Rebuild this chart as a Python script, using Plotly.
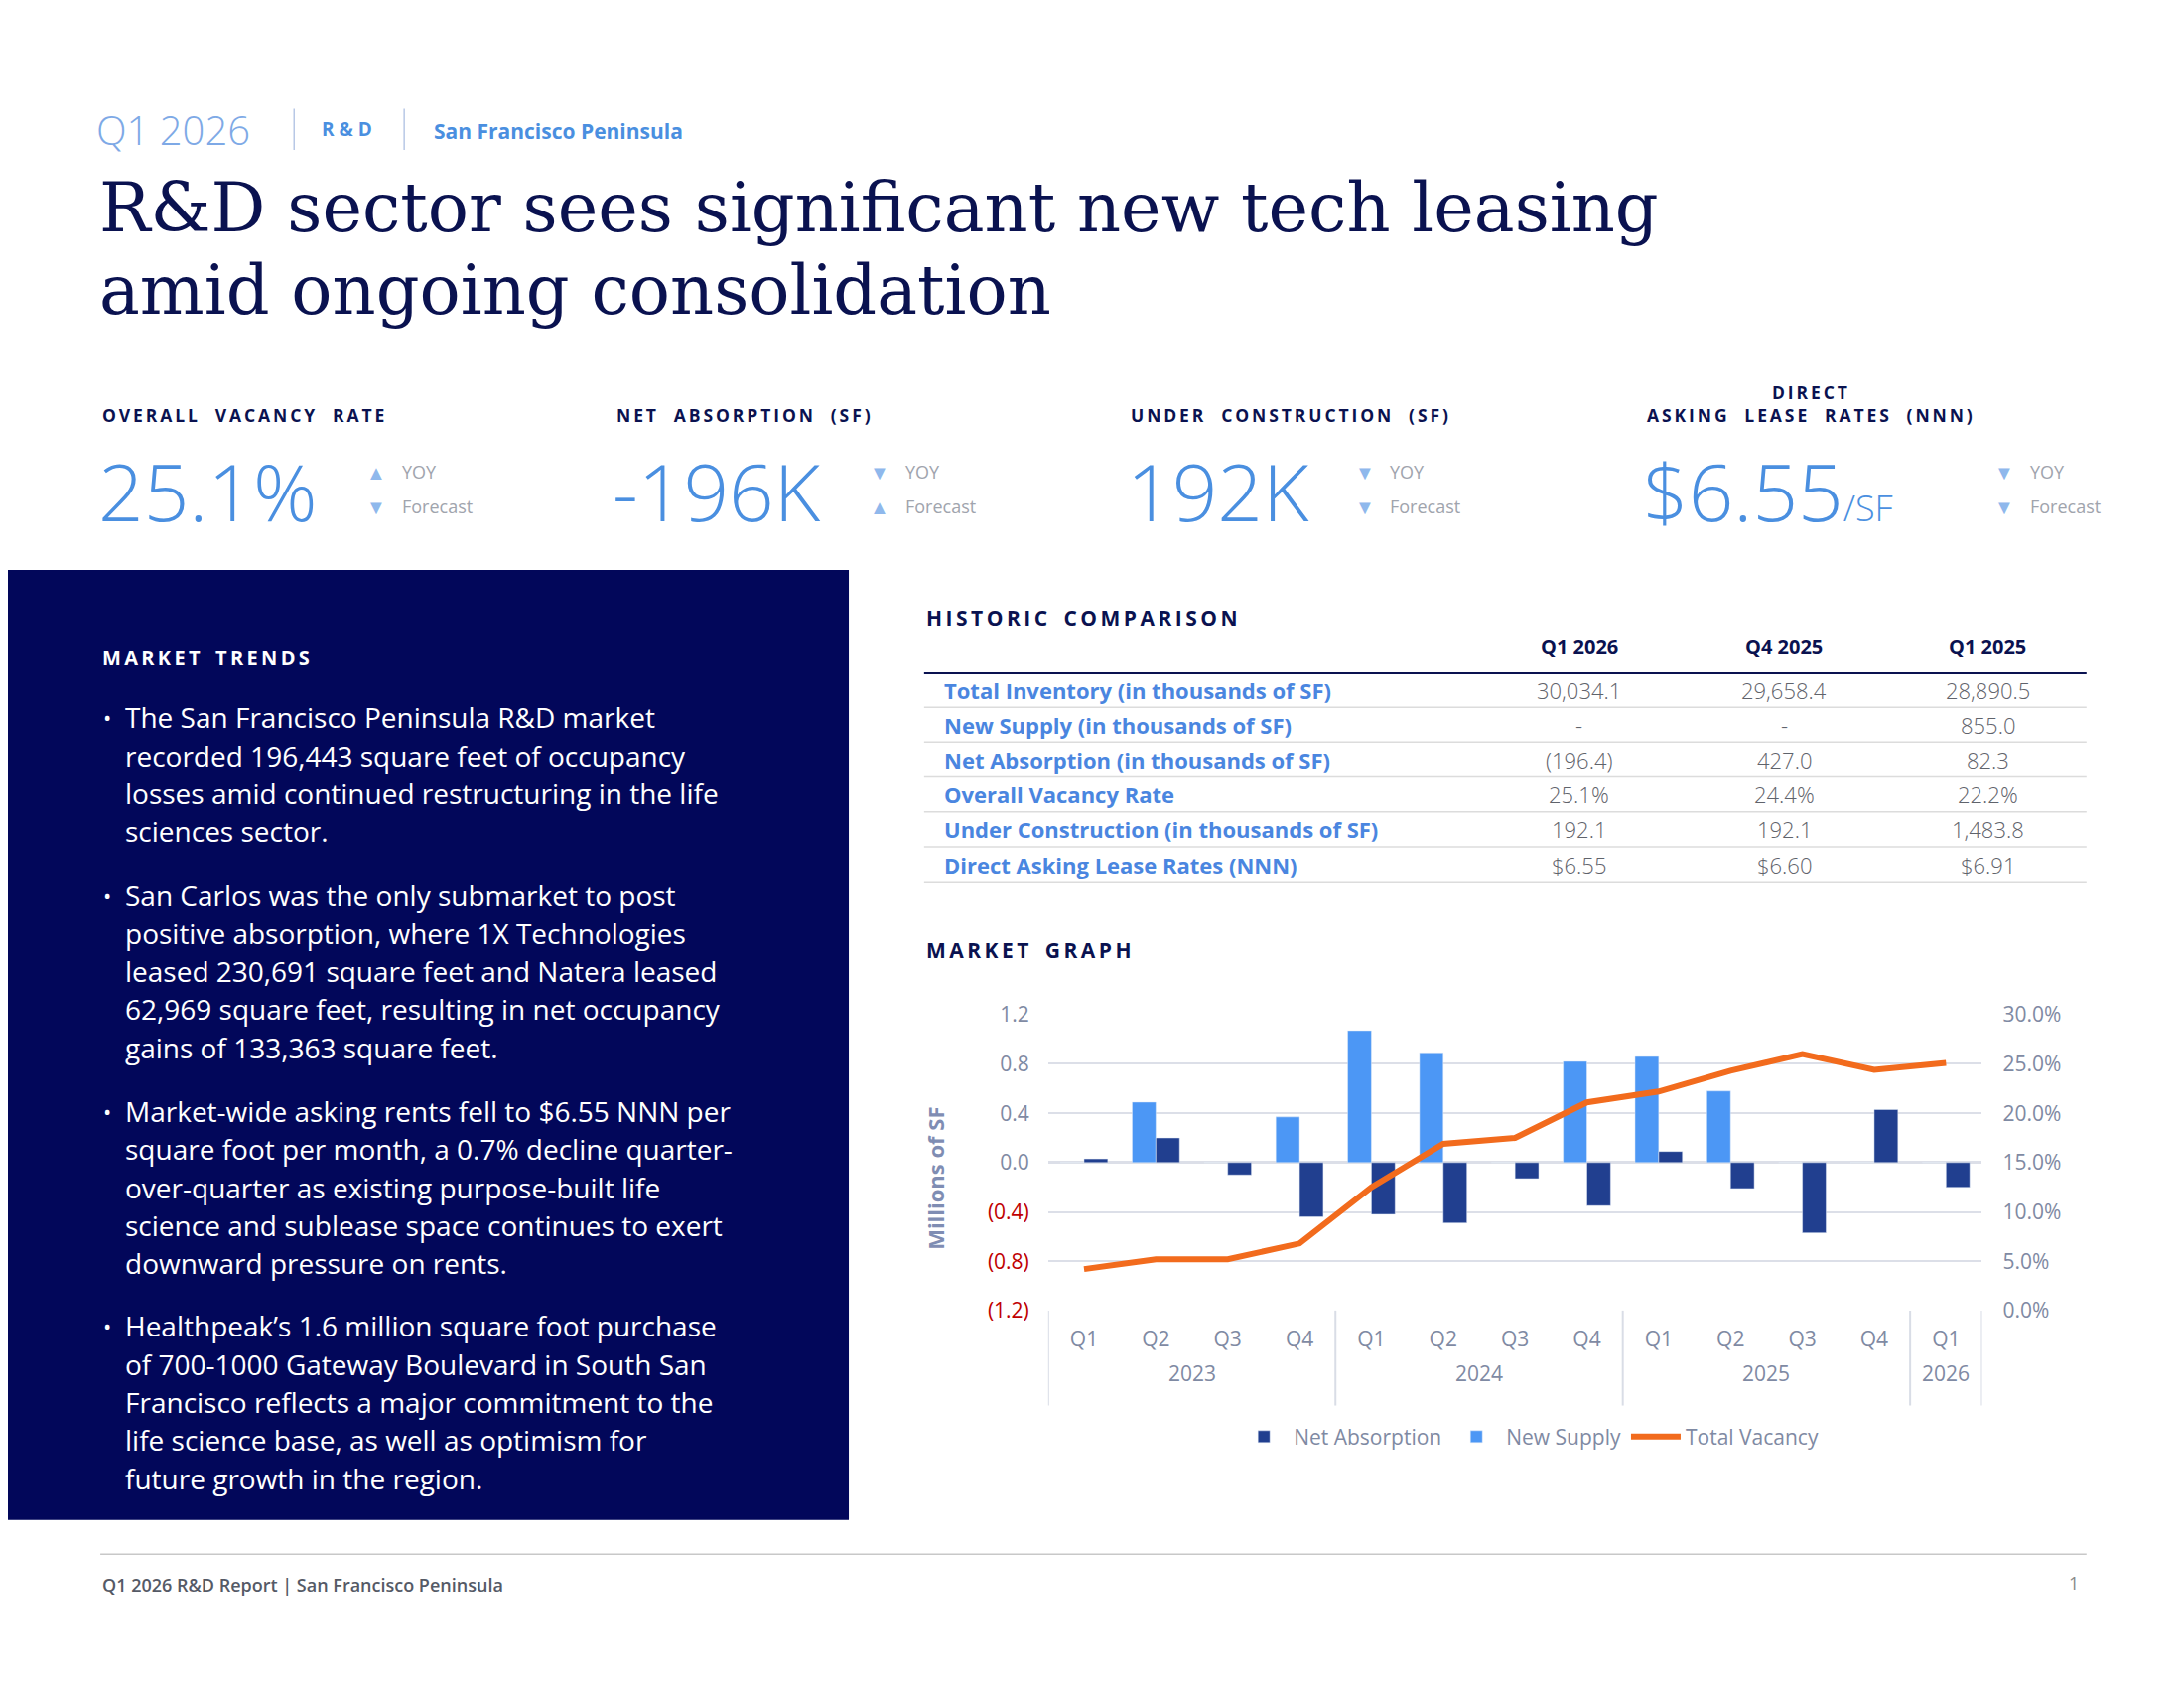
import plotly.graph_objects as go

# ---- data ----
years = ["2023"] * 4 + ["2024"] * 4 + ["2025"] * 4 + ["2026"]
quarters = ["Q1", "Q2", "Q3", "Q4"] * 3 + ["Q1"]
net_absorption = [0.03, 0.20, -0.10, -0.44, -0.42, -0.49, -0.13, -0.35, 0.09, -0.21, -0.57, 0.43, -0.20]
new_supply = [0.0, 0.49, 0.0, 0.37, 1.07, 0.89, 0.0, 0.82, 0.86, 0.58, 0.0, 0.0, 0.0]
total_vacancy = [4.2, 5.2, 5.2, 6.8, 12.5, 16.9, 17.5, 21.1, 22.2, 24.3, 26.0, 24.4, 25.1]

left_ticks = [-1.2, -0.8, -0.4, 0.0, 0.4, 0.8, 1.2]
right_ticks = [0, 5, 10, 15, 20, 25, 30]

table_cols = ["Q1 2026", "Q4 2025", "Q1 2025"]
table_rows = ["Total Inventory (in thousands of SF)", "New Supply (in thousands of SF)",
              "Net Absorption (in thousands of SF)", "Overall Vacancy Rate",
              "Under Construction (in thousands of SF)", "Direct Asking Lease Rates (NNN)"]
table_vals = [["30,034.1", "29,658.4", "28,890.5"],
              ["-", "-", "855.0"],
              ["(196.4)", "427.0", "82.3"],
              ["25.1%", "24.4%", "22.2%"],
              ["192.1", "192.1", "1,483.8"],
              ["$6.55", "$6.60", "$6.91"]]

kpi_labels = ["OVERALL  VACANCY  RATE", "NET  ABSORPTION  (SF)", "UNDER  CONSTRUCTION  (SF)",
              "DIRECT<br>ASKING  LEASE  RATES  (NNN)"]
kpi_values = ["25.1%", "-196K", "192K", "$6.55<span style='font-size:36px'>/SF</span>"]
kpi_yoy = ["▲", "▼", "▼", "▼"]
kpi_fc = ["▼", "▲", "▼", "▼"]

bullets = [
    ["The San Francisco Peninsula R&D market", "recorded 196,443 square feet of occupancy",
     "losses amid continued restructuring in the life", "sciences sector."],
    ["San Carlos was the only submarket to post", "positive absorption, where 1X Technologies",
     "leased 230,691 square feet and Natera leased", "62,969 square feet, resulting in net occupancy",
     "gains of 133,363 square feet."],
    ["Market-wide asking rents fell to $6.55 NNN per", "square foot per month, a 0.7% decline quarter-",
     "over-quarter as existing purpose-built life", "science and sublease space continues to exert",
     "downward pressure on rents."],
    ["Healthpeak\u2019s 1.6 million square foot purchase", "of 700-1000 Gateway Boulevard in South San",
     "Francisco reflects a major commitment to the", "life science base, as well as optimism for",
     "future growth in the region."],
]

# page is 2200x1700, the browser body adds an 8px margin
OFF = 8
W, H = 2200 - 2 * OFF, 1700 - 2 * OFF
SX, SY = 1.404, 1.41  # layout coords below are measured on a reduced copy of the page
NAVY = "#0a1250"
BLUE = "#4a8fe0"
LBLUE = "#8fb8ec"
GREY = "#7f8aa3"
SANS = "Open Sans"


def px(x):
    return (x * SX - OFF) / W


def py(y):
    return 1 - (y * SY - OFF) / H


def spaced(s):
    return "\u2009".join(s)


annotations = []
shapes = []


def text(x, y, s, size, color, xanchor="left", yanchor="middle", family=SANS, weight=None, **kw):
    f = dict(size=size, color=color, family=family)
    if weight:
        f["weight"] = weight
    annotations.append(dict(x=px(x), y=py(y), xref="paper", yref="paper", text=s, showarrow=False,
                            xanchor=xanchor, yanchor=yanchor, font=f, **kw))


def line(x0, y0, x1, y1, color, width):
    shapes.append(dict(type="line", xref="paper", yref="paper", x0=px(x0), y0=py(y0),
                       x1=px(x1), y1=py(y1), line=dict(color=color, width=width)))


cats = [y + " " + q for y, q in zip(years, quarters)]

fig = go.Figure()
fig.add_trace(go.Bar(x=cats, y=new_supply, name="New Supply", marker_color="#4c97f5", legendrank=2))
fig.add_trace(go.Bar(x=cats, y=net_absorption, name="Net Absorption", marker_color="#213f8f", legendrank=1))
fig.add_trace(go.Scatter(x=cats, y=total_vacancy, name="Total Vacancy", yaxis="y2",
                         mode="lines", line=dict(color="#f26b1d", width=6), legendrank=3))

# year labels and dividers under the quarter ticks
groups = {}
for i, y in enumerate(years):
    groups.setdefault(y, []).append(i)
bounds = [-0.5]
for y, idx in groups.items():
    annotations.append(dict(x=(idx[0] + idx[-1]) / 2, y=py(998), xref="x", yref="paper", text=y,
                            showarrow=False, font=dict(size=21, color=GREY, family=SANS)))
    bounds.append(idx[-1] + 0.5)
for b in bounds:
    shapes.append(dict(type="line", xref="x", yref="paper", x0=b, x1=b, y0=py(941), y1=py(1010),
                       line=dict(color="#d9dde6", width=2)))

# header
text(68, 83, "Q1 2026", 40, "#7ea9e6", weight=300)
line(211, 68, 211, 98, "#b8c8e6", 1.5)
text(229, 83, "R & D", 19, BLUE, weight="bold")
line(290, 68, 290, 98, "#b8c8e6", 1.5)
text(310, 84, "San Francisco Peninsula", 21, BLUE, weight="bold")
text(70, 140, "R&D sector sees significant new tech leasing", 68.5, NAVY, family="DejaVu Serif")
text(70, 200, "amid ongoing consolidation", 68.5, NAVY, family="DejaVu Serif")

# KPIs
kx = [72, 441, 810, 1180]
ar = [270, 631, 979, 1438]
for i in range(4):
    lab = "<br>".join(spaced(part) for part in kpi_labels[i].split("<br>"))
    text(kx[i], 301, lab, 17.5, NAVY, yanchor="bottom", weight="bold")
    text(kx[i] - 3, 345, kpi_values[i], 80, BLUE, weight=300)
    text(ar[i], 332, kpi_yoy[i], 20, LBLUE, xanchor="center")
    text(ar[i] + 17, 332, "YOY", 18, "#a0a4ad")
    text(ar[i], 357, kpi_fc[i], 20, LBLUE, xanchor="center")
    text(ar[i] + 17, 357, "Forecast", 18, "#a0a4ad")

# dark panel
shapes.append(dict(type="rect", xref="paper", yref="paper", x0=px(0), x1=px(609), y0=py(1093), y1=py(403),
                   fillcolor="#02075a", line_width=0, layer="below"))
text(72, 467, spaced("MARKET") + "   " + spaced("TRENDS"), 20, "white", weight="bold")
starts = [510, 639, 796, 952]
for b, lines in enumerate(bullets):
    text(73, starts[b], "•", 22, "white")
    for j, s in enumerate(lines):
        text(88, starts[b] + j * 27.7, s, 28, "white")

# historic comparison table
text(663, 438, spaced("HISTORIC") + "   " + spaced("COMPARISON"), 21, NAVY, weight="bold")
cx = [1133, 1280, 1426]
for c, name in enumerate(table_cols):
    text(cx[c], 459, name, 20, NAVY, xanchor="center", weight="bold")
line(663, 478, 1497, 478, NAVY, 2)
for r, lab in enumerate(table_rows):
    yy = 490 + r * 25.4
    text(676, yy, lab, 22, "#4a86e0", weight="bold")
    for c in range(3):
        text(cx[c], yy, table_vals[r][c], 22, "#5f636b", xanchor="center", weight=300)
    line(663, yy + 12.7, 1497, yy + 12.7, "#dcdcdc", 1.5)

# market graph
text(663, 679, spaced("MARKET") + "   " + spaced("GRAPH"), 21, NAVY, weight="bold")
text(671, 845, "Millions of SF", 22, "#7f8db3", xanchor="center", textangle=-90, weight="bold")

# footer
line(72, 1118, 1497, 1118, "#c8c8c8", 1.5)
text(72, 1140, "Q1 2026 R&D Report | San Francisco Peninsula", 18, "#555a66", weight=600)
text(1493, 1139, "1", 18, "#8a8a8a", xanchor="right")

left_text = [("(%.1f)" % abs(v)) if v < 0 else "%.1f" % v for v in left_ticks]
left_text = ["<span style='color:#c00000'>%s</span>" % t if v < 0 else t
             for t, v in zip(left_text, left_ticks)]

fig.update_layout(
    width=W, height=H, margin=dict(l=0, r=0, t=0, b=0),
    paper_bgcolor="white", plot_bgcolor="white",
    annotations=annotations, shapes=shapes,
    barmode="group", bargap=0.34, bargroupgap=0,
    font=dict(family=SANS, color=GREY, size=21),
    xaxis=dict(domain=[px(752), px(1422)], type="category", showgrid=False, range=[-0.5, 12.5],
               tickvals=cats, ticktext=quarters, ticks="", ticklabelstandoff=14,
               tickfont=dict(size=21, color=GREY), showline=False),
    yaxis=dict(domain=[py(941), py(726)], range=[-1.2, 1.2], tickvals=left_ticks, ticktext=left_text,
               showgrid=True, gridcolor="#dcdfe8", gridwidth=2, zeroline=True, zerolinecolor="#dcdfe8",
               zerolinewidth=3, tickfont=dict(size=21, color=GREY), ticklabelstandoff=18),
    yaxis2=dict(overlaying="y", side="right", range=[0, 30], tickvals=right_ticks,
                ticktext=["%.1f%%" % v for v in right_ticks], showgrid=False, zeroline=False,
                tickfont=dict(size=21, color=GREY), ticklabelstandoff=20),
    legend=dict(orientation="h", x=px(1097), xanchor="center", y=py(1018), yanchor="top",
                font=dict(size=21, color=GREY), itemwidth=50),
)

fig.write_html("out.html")
